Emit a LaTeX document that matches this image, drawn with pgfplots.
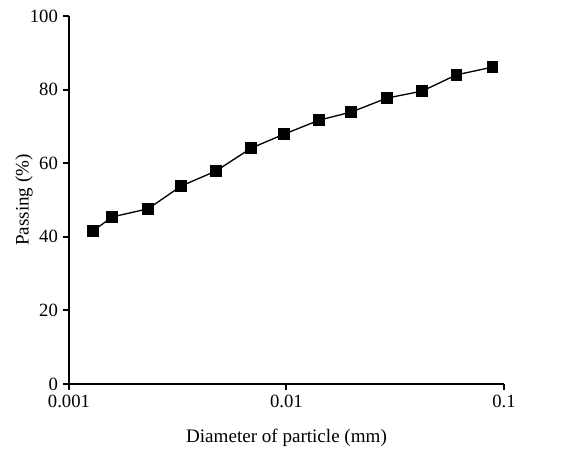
\documentclass[border=0pt]{standalone}
\usepackage{pgfplots}
\pgfplotsset{compat=1.18}
\usepackage{fontspec}
\setmainfont{Liberation Serif}
\begin{document}
\fontsize{14}{16}\selectfont
\begin{tikzpicture}
\useasboundingbox (-51.75pt,-51.75pt) rectangle (384.75pt,288pt);
\begin{axis}[
  at={(0,0)}, anchor=south west,
  scale only axis, width=326.25pt, height=276pt,
  xmode=log, xmin=0.001, xmax=0.1, ymin=0, ymax=100,
  axis x line=bottom, axis y line=left,
  axis line style={-, line width=1.5pt},
  x axis line style={-, line width=1.5pt},
  y axis line style={-, line width=1.5pt},
  xtick={0.001,0.01,0.1}, xticklabels={0.001,0.01,0.1},
  ytick={0,20,40,60,80,100},
  xminorticks=false, yminorticks=false,
  tick align=outside, major tick length=4.5pt,
  major tick style={line width=1.5pt, black},
  /pgf/number format/assume math mode=true,
  ticklabel style={font=\fontsize{14}{16}\selectfont},
  xticklabel style={yshift=1pt},
  yticklabel style={xshift=1pt},
  xlabel={Diameter of particle (mm)},
  ylabel={Passing (\%)},
  every axis x label/.style={at={(axis description cs:0.5,0)}, yshift=-40.5pt, anchor=center, font=\fontsize{14.3}{16}\selectfont},
  every axis y label/.style={at={(axis description cs:0,0.5)}, xshift=-33.75pt, rotate=90, anchor=center, font=\fontsize{14.3}{16}\selectfont},
]
\addplot[black, line width=1pt, mark=square*, mark size=3.85pt, mark options={solid, fill=black}] coordinates {
(0.00129,41.6)
(0.00158,45.4)
(0.00231,47.6)
(0.00328,53.8)
(0.00475,57.9)
(0.00688,64.1)
(0.00976,67.9)
(0.01413,71.7)
(0.01985,73.9)
(0.02900,77.7)
(0.04209,79.6)
(0.06040,84.0)
(0.08850,86.1)
};
\end{axis}
\end{tikzpicture}
\end{document}
